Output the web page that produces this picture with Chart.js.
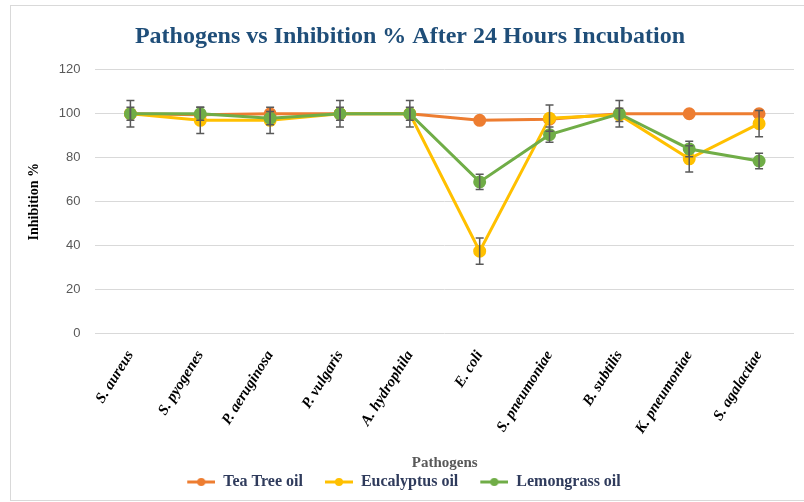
<!DOCTYPE html>
<html>
<head>
<meta charset="utf-8">
<script src="https://cdn.jsdelivr.net/npm/chart.js@4.4.1/dist/chart.umd.min.js"></script>
<style>
  html, body { margin: 0; padding: 0; background: #fff; }
  #wrap { position: relative; width: 804px; height: 502px; }
  #frame { position: absolute; left: 10px; top: 5px; width: 800px; height: 494px;
           border: 1px solid #d9d9d9; border-right: none; pointer-events: none; }
</style>
</head>
<body>
<div id="wrap">
  <canvas id="grafica" width="804" height="502"></canvas>
  <div id="frame"></div>
</div>
<script>
// datos
var patogenos = ["S. aureus", "S. pyogenes", "P. aeruginosa", "P. vulgaris", "A. hydrophila",
                 "E. coli", "S. pneumoniae", "B. subtilis", "K. pneumoniae", "S. agalactiae"];
var teaTree    = [100, 99.5, 100, 100, 100, 97, 97.5, 100, 100, 100];
var eucalipto  = [100, 97, 97, 100, 100, 37.5, 98, 99.5, 79.5, 95.5];
var limonaria  = [100, 100, 98, 100, 100, 69, 90.5, 100, 84, 78.5];
var errEucalipto = [3, 6, 6, 3, 3, 6, 6, 3, 6, 6];
var errLimonaria = [6, 3, 3, 6, 6, 3.5, 3.5, 6, 3.5, 3.5];
var ticksY = [0, 20, 40, 60, 80, 100, 120];

var naranja = "#ED7D31", amarillo = "#FFC000", verde = "#70AD47";

// icono de leyenda: linea con punto (con hueco a la izquierda para separar items)
function iconoLeyenda(color) {
  var c = document.createElement("canvas");
  c.width = 48; c.height = 10;
  var ctx = c.getContext("2d");
  ctx.strokeStyle = color; ctx.lineWidth = 3;
  ctx.beginPath(); ctx.moveTo(20, 5); ctx.lineTo(48, 5); ctx.stroke();
  ctx.fillStyle = color;
  ctx.beginPath(); ctx.arc(34, 5, 4, 0, Math.PI * 2); ctx.fill();
  return c;
}

// barras de error
const barrasError = {
  id: "barrasError",
  afterDatasetsDraw(chart) {
    const ctx = chart.ctx;
    const y = chart.scales.y;
    ctx.save();
    ctx.strokeStyle = "#595959";
    ctx.lineWidth = 1.5;
    chart.data.datasets.forEach((ds, i) => {
      if (!ds.errores) return;
      const meta = chart.getDatasetMeta(i);
      meta.data.forEach((pt, j) => {
        const e = ds.errores[j];
        if (!e) return;
        const v = ds.data[j];
        const yt = y.getPixelForValue(v + e);
        const yb = y.getPixelForValue(v - e);
        ctx.beginPath();
        ctx.moveTo(pt.x, yt); ctx.lineTo(pt.x, yb);
        ctx.moveTo(pt.x - 4, yt); ctx.lineTo(pt.x + 4, yt);
        ctx.moveTo(pt.x - 4, yb); ctx.lineTo(pt.x + 4, yb);
        ctx.stroke();
      });
    });
    ctx.restore();
  }
};

// mover la leyenda un poco a la izquierda, como en el original
const moverLeyenda = {
  id: "moverLeyenda",
  afterLayout(chart) {
    chart.legend.left -= 16;
    chart.legend.right -= 16;
  }
};

const serif = "'Liberation Serif', 'DejaVu Serif', serif";

new Chart(document.getElementById("grafica"), {
  type: "line",
  data: {
    labels: patogenos,
    datasets: [
      { label: "Tea Tree oil", data: teaTree, borderColor: naranja, backgroundColor: naranja, order: 2,
        borderWidth: 3, pointRadius: 5, pointStyleLegend: iconoLeyenda(naranja) },
      { label: "Eucalyptus oil", data: eucalipto, borderColor: amarillo, backgroundColor: amarillo, order: 1,
        borderWidth: 3, pointRadius: 5, errores: errEucalipto, pointStyleLegend: iconoLeyenda(amarillo) },
      { label: "Lemongrass oil", data: limonaria, borderColor: verde, backgroundColor: verde, order: 0,
        borderWidth: 3, pointRadius: 5, errores: errLimonaria, pointStyleLegend: iconoLeyenda(verde) }
    ]
  },
  options: {
    responsive: false,
    animation: false,
    layout: { padding: { left: 26, right: 10, top: 10, bottom: 2 } },
    plugins: {
      title: {
        display: true,
        text: "Pathogens vs Inhibition % After 24 Hours Incubation",
        color: "#1F4E79",
        font: { family: serif, size: 24, weight: "bold" },
        padding: { top: 12, bottom: 19 }
      },
      legend: {
        position: "bottom",
        labels: {
          usePointStyle: true,
          pointStyleWidth: 48,
          color: "#2F3B5C",
          font: { family: serif, size: 16, weight: "bold" },
          padding: 2,
          generateLabels(chart) {
            return chart.data.datasets.map((ds, i) => ({
              text: ds.label,
              pointStyle: ds.pointStyleLegend,
              fontColor: "#2F3B5C",
              datasetIndex: i,
              lineWidth: 0
            }));
          }
        }
      },
      tooltip: { enabled: false }
    },
    scales: {
      x: {
        offset: true,
        grid: { display: false },
        border: { display: false },
        ticks: {
          minRotation: 58, maxRotation: 58,
          padding: 6,
          color: "#000",
          font: { family: serif, size: 15, weight: "bold", style: "italic" }
        },
        title: {
          display: true, text: "Pathogens", color: "#595959",
          font: { family: serif, size: 15, weight: "bold" },
          padding: { top: 11, bottom: 0 }
        }
      },
      y: {
        min: 0, max: 120,
        afterBuildTicks(axis) { axis.ticks = ticksY.map(v => ({ value: v })); },
        grid: { color: "#d9d9d9", drawTicks: false },
        border: { display: false },
        ticks: { color: "#595959", padding: 15, font: { family: "'Liberation Sans', sans-serif", size: 13 } },
        title: {
          display: true, text: "Inhibition %", color: "#000",
          font: { family: serif, size: 14, weight: "bold" },
          padding: { top: 0, bottom: 1 }
        }
      }
    }
  },
  plugins: [barrasError, moverLeyenda]
});
</script>
</body>
</html>
